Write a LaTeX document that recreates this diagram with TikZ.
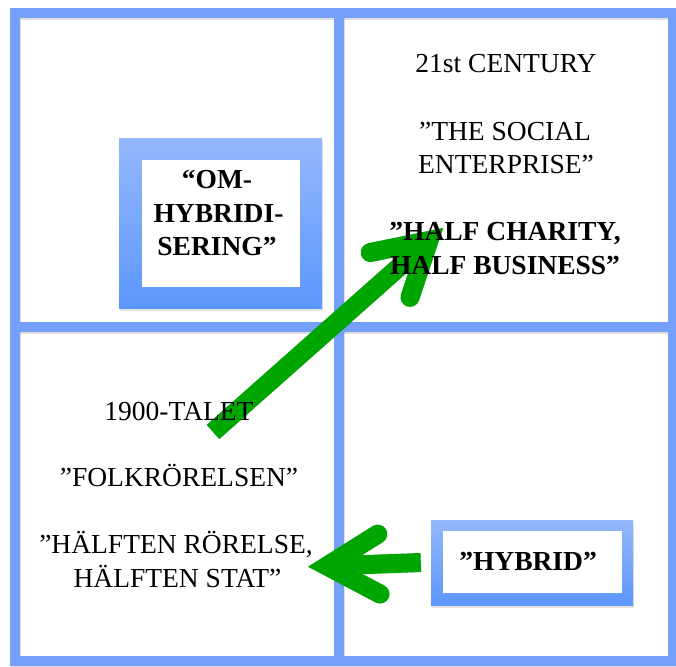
\documentclass[tikz,border=0pt]{standalone}
\usepackage{fontspec}
\setmainfont{Liberation Serif}
\usetikzlibrary{calc,shadows}
\definecolor{gridblue}{RGB}{116,160,250}
\definecolor{boxtop}{RGB}{148,184,252}
\definecolor{boxbot}{RGB}{92,151,252}
\definecolor{arrgreen}{RGB}{0,166,0}
\tikzset{
  bar/.style={draw=gridblue, line width=10pt},
  barshadow/.style={draw=black, opacity=0.12, line width=10pt},
  txt/.style={inner sep=0pt, anchor=base, font=\fontsize{27.5}{33.5}\selectfont},
  btxt/.style={inner sep=0pt, anchor=base, font=\fontsize{27.5}{33.5}\selectfont\bfseries},
  frame/.style={rectangle, inner sep=0pt, draw=none, top color=boxtop, bottom color=boxbot,
    drop shadow={opacity=0.22, shadow xshift=1pt, shadow yshift=-2.5pt}},
  hole/.style={rectangle, inner sep=0pt, draw=none, fill=white},
  shaft/.style={draw=arrgreen, line width=19pt, line cap=butt},
  head/.style={draw=arrgreen, line width=19pt, line cap=round, line join=miter},
  shaftshadow/.style={draw=black, opacity=0.2, line width=19pt, line cap=butt},
  headshadow/.style={draw=black, opacity=0.2, line width=19pt, line cap=round, line join=miter},
}
\begin{document}
\begin{tikzpicture}[x=1pt,y=-1pt]
\useasboundingbox (0,0) rectangle (676,666);
\fill[white] (0,0) rectangle (676,666);

% grid shadow
\begin{scope}[shift={(1,2)}]
  \draw[barshadow] (15,13) rectangle (673,661);
  \draw[barshadow] (339,13) -- (339,661);
  \draw[barshadow] (15,327) -- (673,327);
\end{scope}
% grid
\draw[bar] (15,13) rectangle (673,661);
\draw[bar] (339,13) -- (339,661);
\draw[bar] (15,327) -- (673,327);

% framed boxes
\node[frame, minimum width=203pt, minimum height=170pt] (omout) at (220.5,223) {};
\node[hole, minimum width=158pt, minimum height=127pt] (om) at (221,223.5) {};
\node[frame, minimum width=202pt, minimum height=85pt] (hybout) at (532,562.5) {};
\node[hole, minimum width=179pt, minimum height=62pt] (hyb) at (532.5,562) {};

% arrow end points
\coordinate (a1tail) at (213,432);
\coordinate (a1tip) at (429,240.5);
\coordinate (a2tail) at ([xshift=-10pt]hybout.west);
\coordinate (a2tip) at (327,566);

% arrow shadows
\begin{scope}[shift={(1,2.5)}]
  \draw[shaftshadow] (a1tail) -- (a1tip);
  \draw[headshadow] ($(a1tip)!60pt!30:(a1tail)$) -- (a1tip) -- ($(a1tip)!60pt!-30:(a1tail)$);
  \draw[shaftshadow] (a2tail) -- (a2tip);
  \draw[headshadow] ($(a2tip)!60pt!30:(a2tail)$) -- (a2tip) -- ($(a2tip)!60pt!-30:(a2tail)$);
\end{scope}
% arrows
\draw[shaft] (a1tail) -- (a1tip);
\draw[head] ($(a1tip)!60pt!30:(a1tail)$) -- (a1tip) -- ($(a1tip)!60pt!-30:(a1tail)$);
\draw[shaft] (a2tail) -- (a2tip);
\draw[head] ($(a2tip)!60pt!30:(a2tail)$) -- (a2tip) -- ($(a2tip)!60pt!-30:(a2tail)$);

% texts
\node[btxt] (omA) at (217,188) {“OM-};
\node[btxt] (omB) at (218.5,222) {HYBRIDI-};
\node[btxt] (omC) at (217,255.5) {SERING”};

\node[txt] (c21) at (506,73) {21st CENTURY};
\node[txt] (soc1) at (505,140) {”THE SOCIAL};
\node[txt] (soc2) at (506,173.5) {ENTERPRISE”};
\node[btxt] (hc1) at (505,240.5) {”HALF CHARITY,};
\node[btxt] (hc2) at (505,274) {HALF BUSINESS”};

\node[txt] (t1900) at (179,420) {1900-TALET};
\node[txt] (folk) at (179,486.5) {”FOLKRÖRELSEN”};
\node[txt] (hr1) at (176,553) {”HÄLFTEN RÖRELSE,};
\node[txt] (hr2) at (177.5,587) {HÄLFTEN STAT”};

\node[btxt] (hybt) at (528,570) {”HYBRID”};
\end{tikzpicture}
\end{document}
